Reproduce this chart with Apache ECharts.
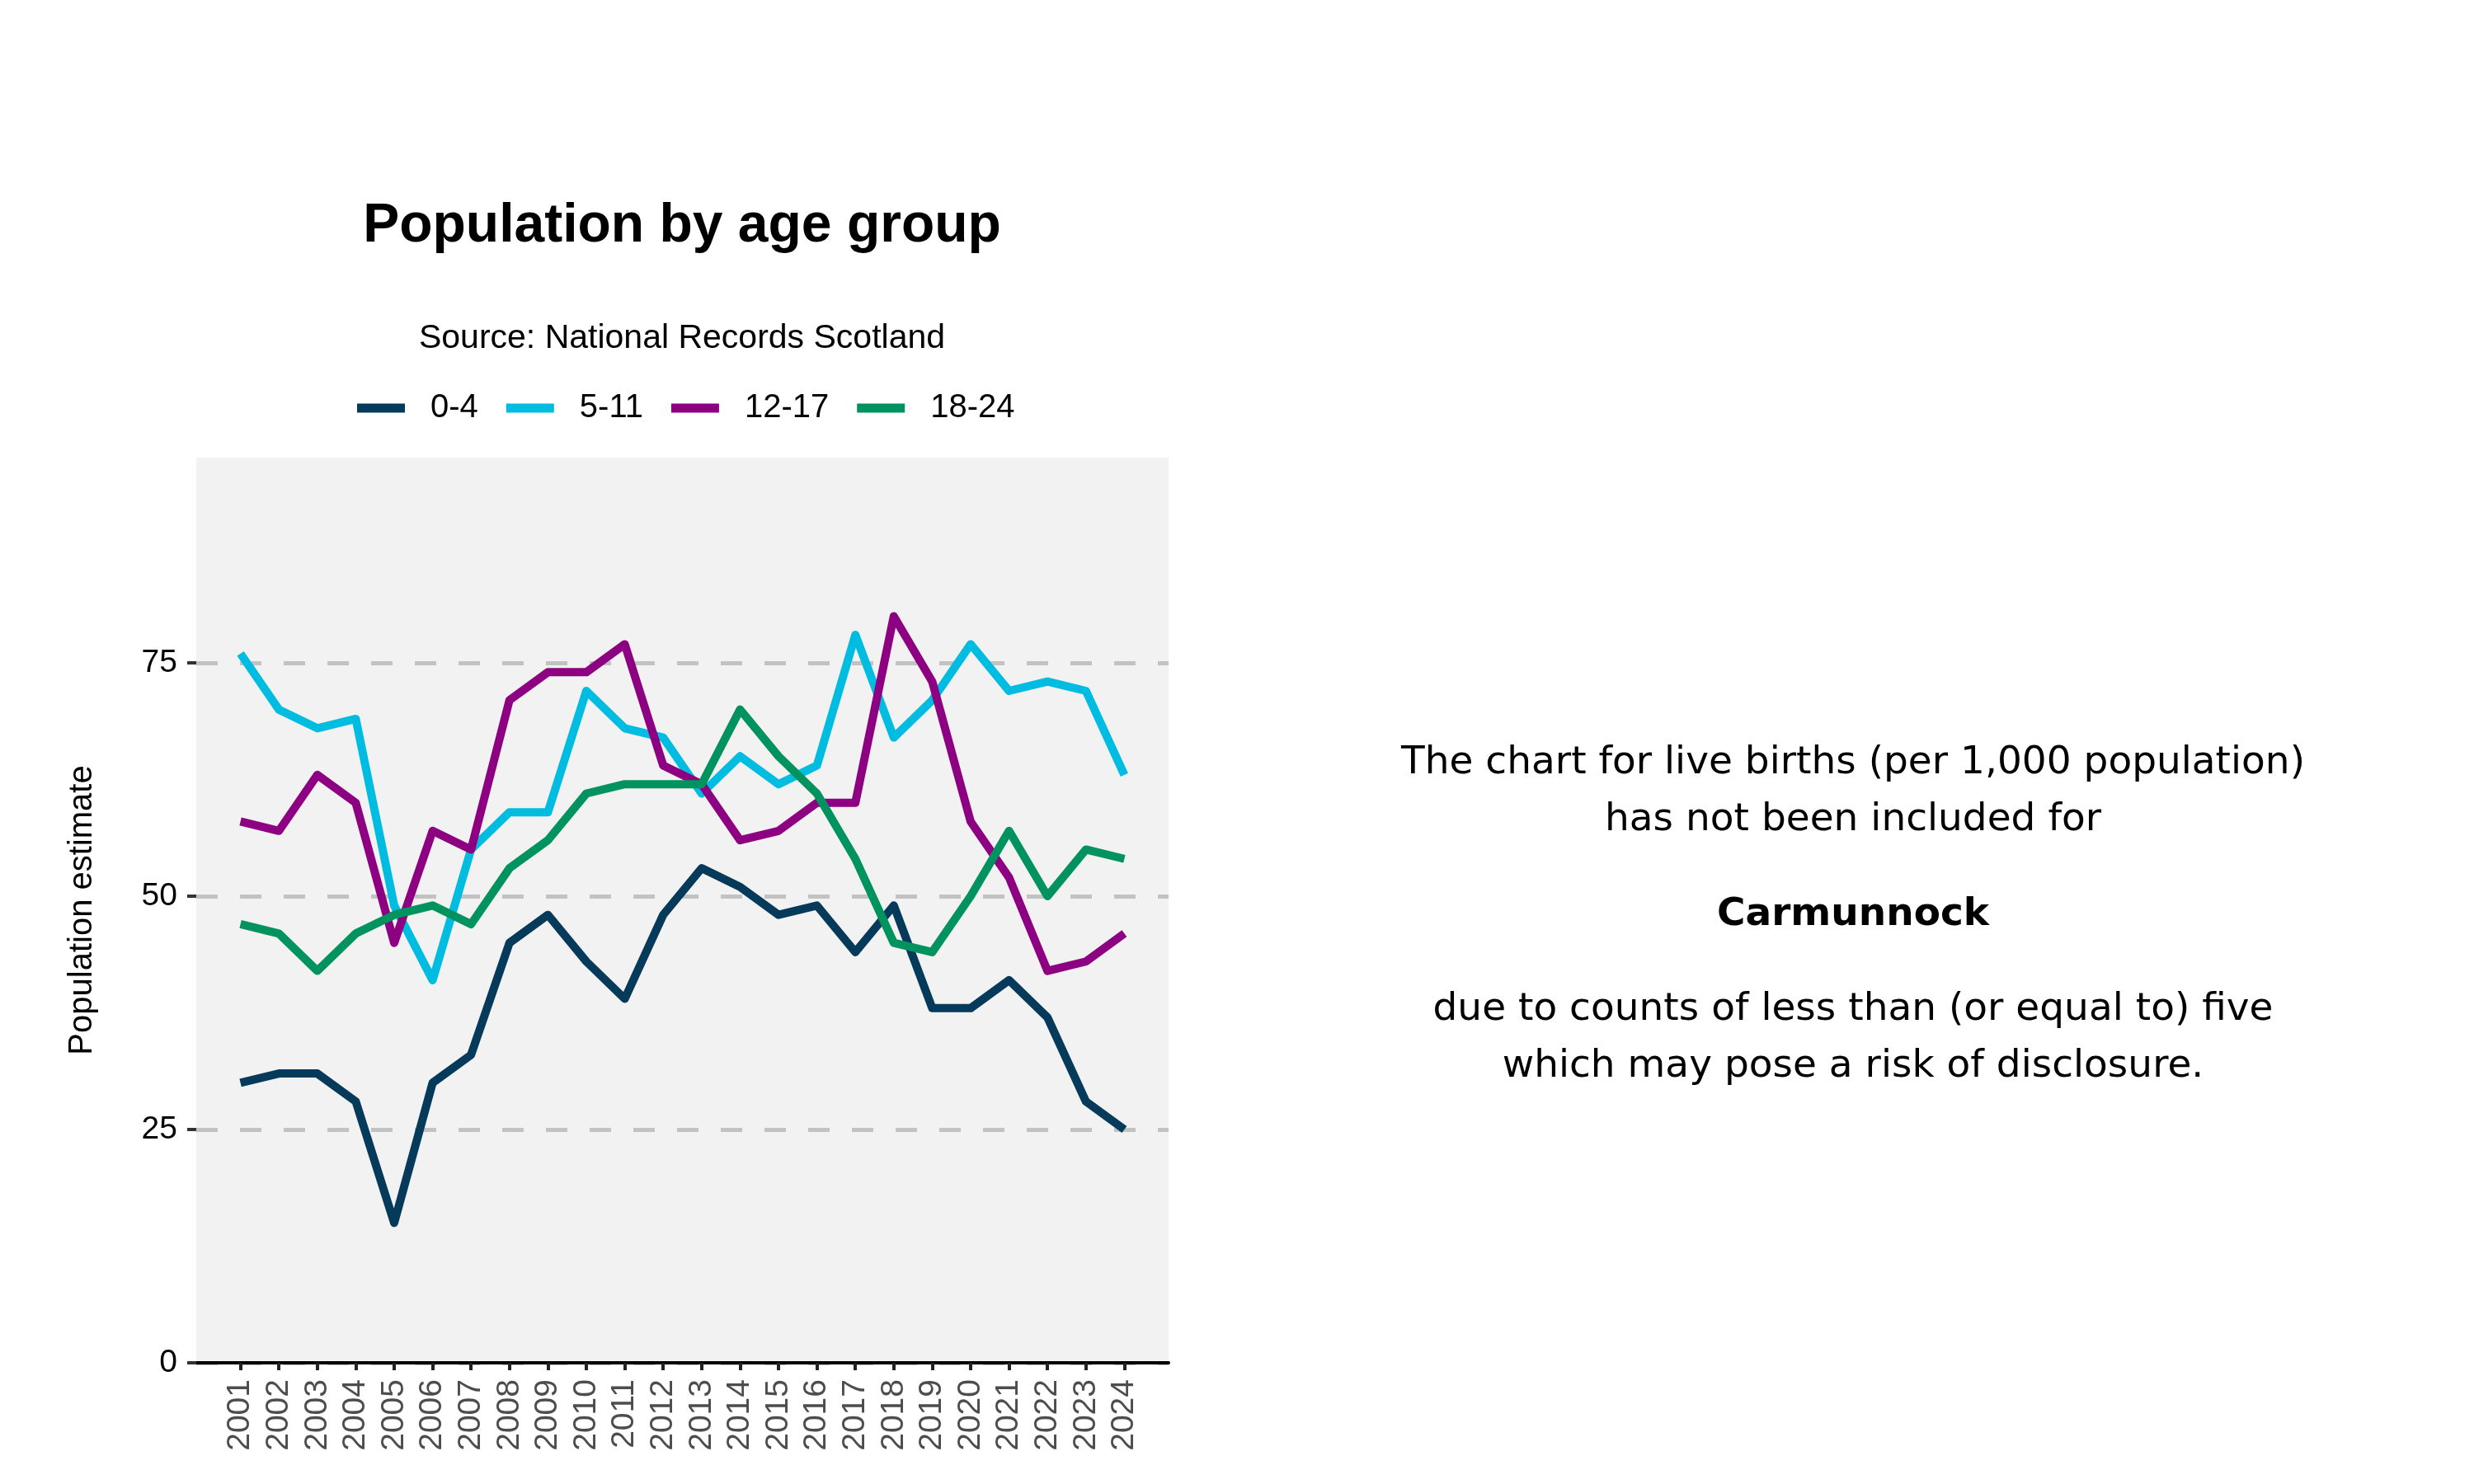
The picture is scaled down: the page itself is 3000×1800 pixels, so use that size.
<!DOCTYPE html>
<html>
<head>
<meta charset="utf-8">
<script src="https://cdn.jsdelivr.net/npm/echarts@6/dist/echarts.min.js"></script>
<style>
  html, body { margin: 0; padding: 0; background: #fff; }
  #chart { width: 3000px; height: 1800px; }
</style>
</head>
<body>
<div id="chart"></div>
<script>
const years = [2001, 2002, 2003, 2004, 2005, 2006, 2007, 2008, 2009, 2010, 2011, 2012,
  2013, 2014, 2015, 2016, 2017, 2018, 2019, 2020, 2021, 2022, 2023, 2024]
const age0to4 = [30, 31, 31, 28, 15, 30, 33, 45, 48, 43, 39, 48, 53, 51, 48, 49, 44, 49, 38, 38, 41, 37, 28, 25]
const age5to11 = [76, 70, 68, 69, 49, 41, 55, 59, 59, 72, 68, 67, 61, 65, 62, 64, 78, 67, 71, 77, 72, 73, 72, 63]
const age12to17 = [58, 57, 63, 60, 45, 57, 55, 71, 74, 74, 77, 64, 62, 56, 57, 60, 60, 80, 73, 58, 52, 42, 43, 46]
const age18to24 = [47, 46, 42, 46, 48, 49, 47, 53, 56, 61, 62, 62, 62, 70, 65, 61, 54, 45, 44, 50, 57, 50, 55, 54]
const groupNames = ['0-4', '5-11', '12-17', '18-24']
const groupColors = ['#063A5B', '#00BCE1', '#8E0082', '#00925F']
const yTicks = [0, 25, 50, 75]

const noteLines = [
  'The chart for live births (per 1,000 population)',
  'has not been included for',
  'Carmunnock',
  'due to counts of less than (or equal to) five',
  'which may pose a risk of disclosure.'
]

const font = 'Liberation Sans'
const chart = echarts.init(document.getElementById('chart'))

const groupValues = [age0to4, age5to11, age12to17, age18to24]
const series = groupNames.map((name, i) => ({
  name: name,
  type: 'line',
  data: years.map((y, j) => [y, groupValues[i][j]]),
  showSymbol: false,
  symbol: 'none',
  color: groupColors[i],
  lineStyle: { width: 10, color: groupColors[i], join: 'round' },
  emphasis: { disabled: true }
}))

// centre of the plot panel, used for the title block
const panelCentre = 827
const noteCentre = 2247
const noteY = [926, 995, 1110, 1225, 1294]

const graphics = [
  {
    type: 'text', x: panelCentre, y: 275,
    style: { text: 'Population by age group', fill: '#000', align: 'center', verticalAlign: 'middle',
      font: 'bold 66px "Liberation Sans"' }
  },
  {
    type: 'text', x: panelCentre, y: 411,
    style: { text: 'Source: National Records Scotland', fill: '#000', align: 'center', verticalAlign: 'middle',
      font: '41px "Liberation Sans"' }
  }
]
noteLines.forEach((line, i) => {
  graphics.push({
    type: 'text', x: noteCentre, y: noteY[i],
    style: {
      text: line, fill: '#000', align: 'center', verticalAlign: 'middle',
      font: (i === 2 ? 'bold ' : '') + '47px "DejaVu Sans"'
    }
  })
})

chart.setOption({
  animation: false,
  backgroundColor: '#fff',
  textStyle: { fontFamily: font },
  legend: {
    data: groupNames,
    left: 433,
    top: 475,
    padding: 0,
    icon: 'rect',
    itemWidth: 58,
    itemHeight: 11,
    itemGap: 34,
    selectedMode: false,
    textStyle: { fontFamily: font, fontSize: 40, color: '#000', padding: [0, 0, 0, 26] }
  },
  grid: {
    left: 238, top: 555, width: 1179, height: 1098,
    containLabel: false,
    show: true, backgroundColor: '#F2F2F2', borderWidth: 0
  },
  xAxis: {
    type: 'value',
    min: years[0] - 1.15,
    max: years[years.length - 1] + 1.15,
    splitLine: { show: false },
    axisLine: { show: true, onZero: false, lineStyle: { color: '#000', width: 4 } },
    axisTick: { show: true, length: 9, lineStyle: { color: '#222', width: 4 }, customValues: years },
    axisLabel: {
      customValues: years, rotate: 90, margin: 20,
      fontFamily: font, fontSize: 39, color: '#4D4D4D',
      formatter: v => String(v)
    }
  },
  yAxis: {
    type: 'value',
    min: 0, max: 97, interval: 25,
    name: 'Population estimate',
    nameLocation: 'middle',
    nameGap: 118,
    nameTextStyle: { fontFamily: font, fontSize: 40, color: '#000' },
    axisLine: { show: false },
    axisTick: { show: true, length: 11, lineStyle: { color: '#333', width: 4 }, customValues: yTicks },
    axisLabel: { customValues: yTicks, margin: 23, fontFamily: font, fontSize: 39, color: '#000' },
    splitLine: {
      show: true,
      lineStyle: { color: '#C2C2C2', width: 5, type: [26, 27] }
    }
  },
  graphic: graphics,
  series: series
})
</script>
</body>
</html>
